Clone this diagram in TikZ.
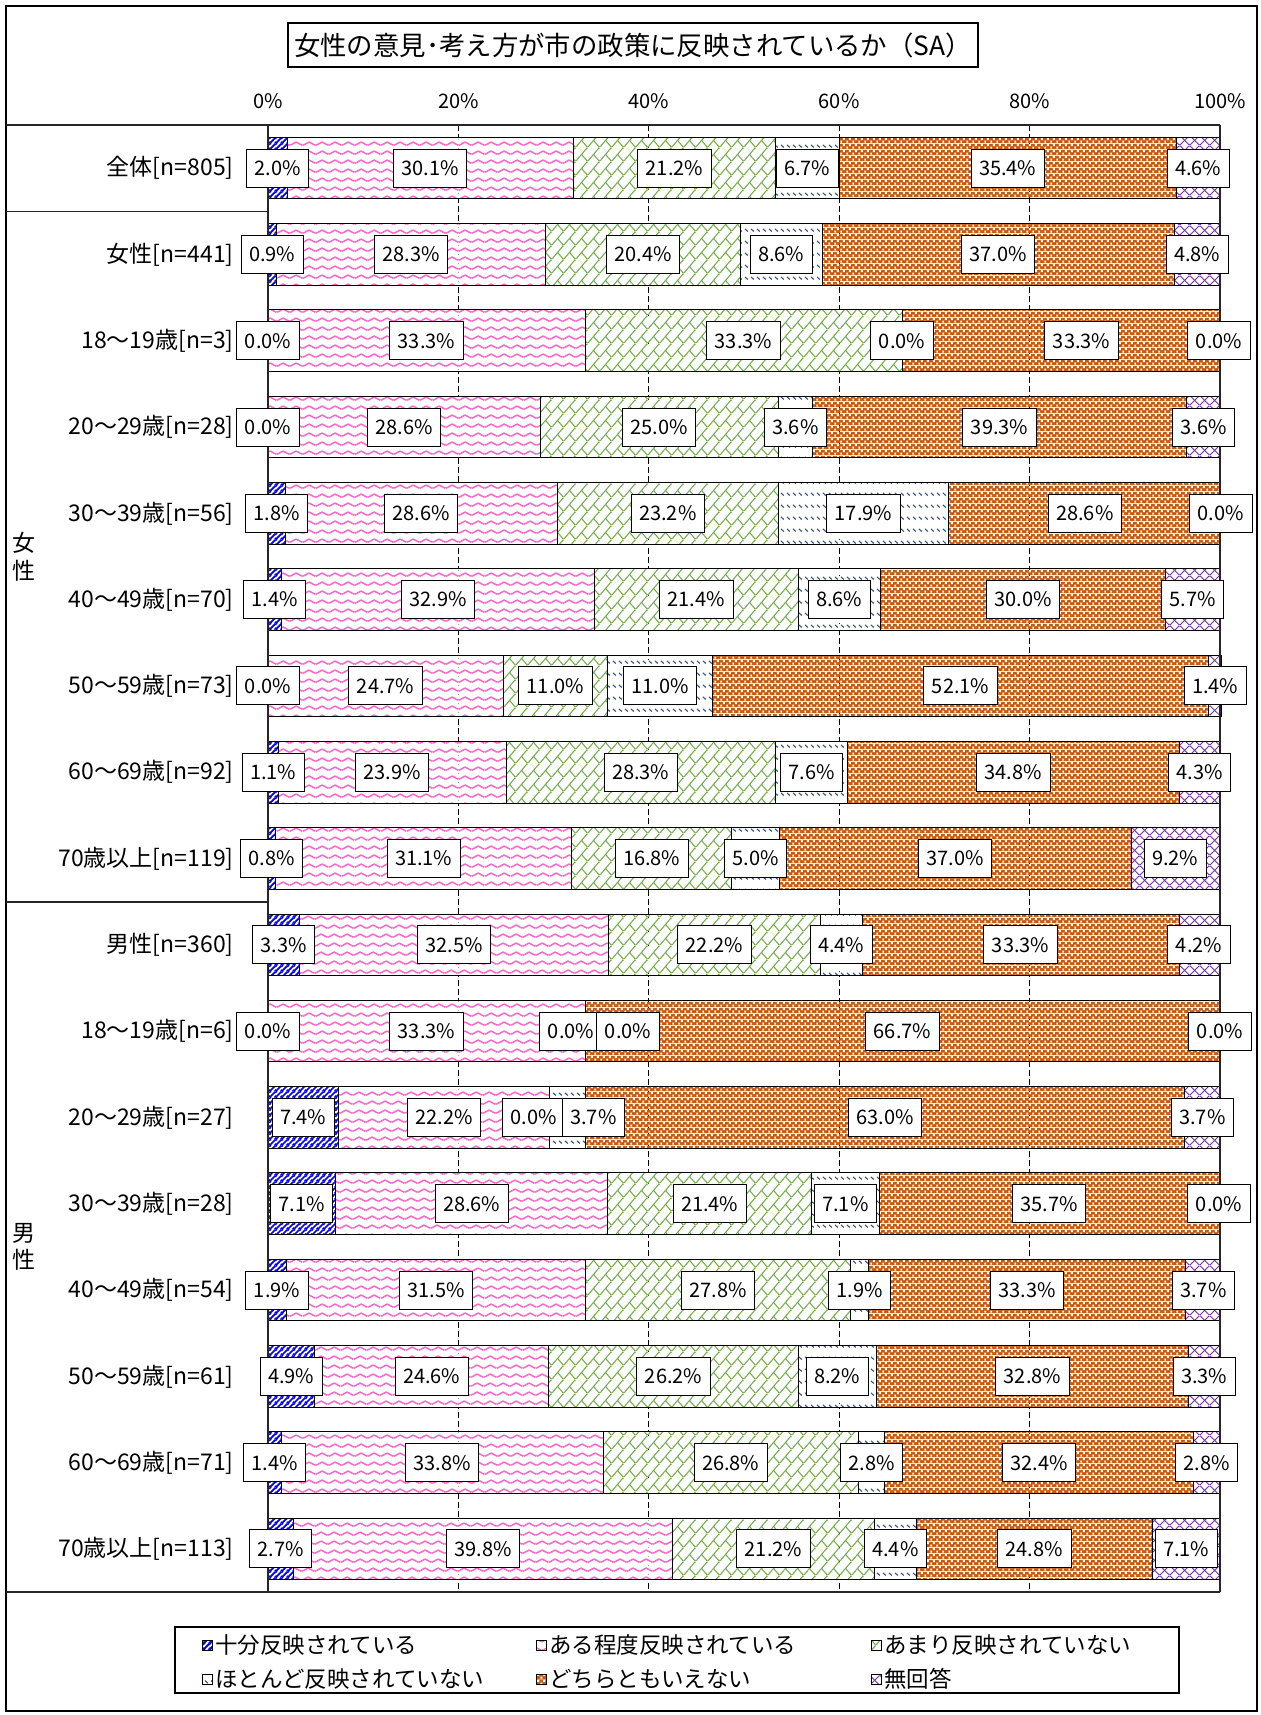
\documentclass[tikz,border=0pt]{standalone}
\usepackage{fontspec}
\setmainfont{Noto Sans CJK JP}
\usetikzlibrary{patterns.meta}

\definecolor{jubunblue}{RGB}{0,0,255}
\definecolor{teidopink}{RGB}{255,102,204}
\definecolor{amarigreen}{RGB}{112,173,71}
\definecolor{hotondoblue}{RGB}{47,85,151}
\definecolor{dochiraorange}{RGB}{197,90,17}
\definecolor{mukaitopurple}{RGB}{112,48,160}

\tikzdeclarepattern{name=jubunfill, type=colored,
  bounding box={(0pt,0pt) and (3pt,3pt)}, tile size={(3pt,3pt)},
  code={
    \fill[white] (0pt,0pt) rectangle (3pt,3pt);
    \draw[jubunblue, line width=1pt] (-0.5pt,-0.5pt) -- (3.5pt,3.5pt);
    \draw[jubunblue, line width=1pt] (-0.5pt,2.5pt) -- (0.5pt,3.5pt);
    \draw[jubunblue, line width=1pt] (2.5pt,-0.5pt) -- (3.5pt,0.5pt);
  }}
\tikzdeclarepattern{name=teidofill, type=colored,
  bounding box={(0pt,0pt) and (6.3pt,4.4pt)}, tile size={(6.3pt,4.4pt)},
  code={
    \fill[white] (0pt,0pt) rectangle (6.3pt,4.4pt);
    \draw[teidopink, line width=0.75pt] (0pt,1.4pt) .. controls (1.3pt,1.4pt) and (1.85pt,3pt) .. (3.15pt,3pt) .. controls (4.45pt,3pt) and (5pt,1.4pt) .. (6.3pt,1.4pt);
  }}
\tikzdeclarepattern{name=amarifill, type=colored,
  bounding box={(0pt,0pt) and (6pt,7pt)}, tile size={(6pt,7pt)},
  code={
    \fill[white] (0pt,0pt) rectangle (6pt,7pt);
    \draw[amarigreen, line width=0.55pt] (0pt,0pt) -- (6pt,7pt);
    \draw[amarigreen, line width=0.55pt] (3pt,3.5pt) -- (6pt,0pt);
  }}
\tikzdeclarepattern{name=hotondofill, type=colored,
  bounding box={(0pt,0pt) and (3pt,6pt)}, tile size={(3pt,6pt)},
  code={
    \fill[white] (0pt,0pt) rectangle (3pt,6pt);
    \draw[hotondoblue, line width=0.6pt] (0.6pt,5.4pt) -- (2.2pt,4pt);
  }}
\tikzdeclarepattern{name=dochirafill, type=colored,
  bounding box={(0pt,0pt) and (3pt,3pt)}, tile size={(3pt,3pt)},
  code={
    \fill[dochiraorange] (0pt,0pt) rectangle (3pt,3pt);
    \fill[white] (0.2pt,0.2pt) rectangle (1.3pt,1.3pt);
    \fill[white] (1.7pt,1.7pt) rectangle (2.8pt,2.8pt);
  }}
\tikzdeclarepattern{name=mukaitofill, type=colored,
  bounding box={(0pt,0pt) and (5pt,5pt)}, tile size={(5pt,5pt)},
  code={
    \fill[white] (0pt,0pt) rectangle (5pt,5pt);
    \draw[mukaitopurple, line width=0.45pt] (0pt,0pt) -- (5pt,5pt);
    \draw[mukaitopurple, line width=0.45pt] (0pt,5pt) -- (5pt,0pt);
  }}

\tikzset{
  seg1/.style={draw=black, line width=0.5pt, pattern=jubunfill},
  seg2/.style={draw=black, line width=0.5pt, pattern=teidofill},
  seg3/.style={draw=black, line width=0.5pt, pattern=amarifill},
  seg4/.style={draw=black, line width=0.5pt, pattern=hotondofill},
  seg5/.style={draw=black, line width=0.5pt, pattern=dochirafill},
  seg6/.style={draw=black, line width=0.5pt, pattern=mukaitofill},
  framel/.style={line width=0.7pt, black!85},
  gridline/.style={line width=0.5pt, dash pattern=on 3pt off 1.5pt},
  pctlabel/.style={draw=black, fill=white, line width=0.5pt, inner xsep=4pt, inner ysep=0pt,
    minimum height=19pt, font=\fontsize{10pt}{12pt}\selectfont},
  catlabel/.style={anchor=east, inner sep=0pt, font=\fontsize{11.5pt}{13.8pt}\selectfont},
  grouplabel/.style={align=center, inner sep=0pt, font=\fontsize{11.5pt}{13.8pt}\selectfont},
  axlabel/.style={inner sep=0pt, font=\fontsize{10pt}{12pt}\selectfont},
  legtext/.style={anchor=west, inner sep=0pt, font=\fontsize{11.25pt}{13.5pt}\selectfont},
  titlebox/.style={draw=black, line width=0.6pt, minimum width=345pt, minimum height=22pt,
    inner sep=0pt, font=\fontsize{13.2pt}{15pt}\selectfont}
}

\def\chartrows{%
全体[n=805]/{2.0,30.1,21.2,6.7,35.4,4.6}/{0,0,0,0,0,0},%
女性[n=441]/{0.9,28.3,20.4,8.6,37.0,4.8}/{0,0,0,0,0,0},%
18～19歳[n=3]/{0.0,33.3,33.3,0.0,33.3,0.0}/{0,0,0,0,21,0},%
20～29歳[n=28]/{0.0,28.6,25.0,3.6,39.3,3.6}/{0,0,0,0,0,0},%
30～39歳[n=56]/{1.8,28.6,23.2,17.9,28.6,0.0}/{0,0,0,0,0,0},%
40～49歳[n=70]/{1.4,32.9,21.4,8.6,30.0,5.7}/{0,0,0,0,0,0},%
50～59歳[n=73]/{0.0,24.7,11.0,11.0,52.1,1.4}/{0,0,0,0,0,0},%
60～69歳[n=92]/{1.1,23.9,28.3,7.6,34.8,4.3}/{0,0,0,0,0,0},%
70歳以上[n=119]/{0.8,31.1,16.8,5.0,37.0,9.2}/{0,0,0,0,0,0},%
男性[n=360]/{3.3,32.5,22.2,4.4,33.3,4.2}/{0,0,0,0,0,0},%
18～19歳[n=6]/{0.0,33.3,0.0,0.0,66.7,0.0}/{0,0,-14,43,0,0},%
20～29歳[n=27]/{7.4,22.2,0.0,3.7,63.0,3.7}/{0,0,-16,26,0,0},%
30～39歳[n=28]/{7.1,28.6,21.4,7.1,35.7,0.0}/{0,0,0,0,0,0},%
40～49歳[n=54]/{1.9,31.5,27.8,1.9,33.3,3.7}/{0,0,0,0,0,0},%
50～59歳[n=61]/{4.9,24.6,26.2,8.2,32.8,3.3}/{0,0,0,0,0,0},%
60～69歳[n=71]/{1.4,33.8,26.8,2.8,32.4,2.8}/{0,0,0,0,0,0},%
70歳以上[n=113]/{2.7,39.8,21.2,4.4,24.8,7.1}/{0,0,0,0,0,0}}

\begin{document}
\begin{tikzpicture}[x=0.5pt, y=-0.5pt]
\useasboundingbox (0,0) rectangle (1260,1715);
\draw[line width=0.6pt] (6,6) rectangle (1257,1711);

\node[titlebox] (title) at (633,45) {女性の意見･考え方が市の政策に反映されているか（SA）};

\foreach \p in {20,40,60,80}
  \draw[gridline] (268+9.52*\p,125) -- (268+9.52*\p,1592);
\foreach \p in {0,20,...,100}
  \node[axlabel] (ax\p) at (268+9.52*\p,101) {\p\%};

% bars
\foreach \lab/\vals/\shifts [count=\r from 0] in \chartrows {
  \pgfmathsetmacro\yc{168.15+86.3*\r}
  \node[catlabel] (cat\r) at (234,\yc) {\lab};
  \xdef\cum{0}
  \foreach \v [count=\k] in \vals {
    \pgfmathsetmacro\xa{268+9.52*\cum}
    \pgfmathsetmacro\xb{268+9.52*(\cum+\v)}
    \ifdim\v pt>0pt
      \draw[seg\k] (\xa,\yc-30.8) rectangle (\xb,\yc+30.8);
    \fi
    \pgfmathsetmacro\cumnext{\cum+\v}
    \xdef\cum{\cumnext}
  }
}

\draw[framel] (6,125) -- (1220,125);
\draw[framel] (268,125) -- (268,1592);
\draw[framel] (1220,125) -- (1220,1592);
\draw[framel] (6,1592) -- (1220,1592);
\draw[framel] (6,211.4) -- (268,211.4);
\draw[framel] (6,901.8) -- (268,901.8);

\node[grouplabel] (grpjosei) at (24,556.6) {女\\性};
\node[grouplabel] (grpdansei) at (24,1247) {男\\性};

% value labels
\foreach \lab/\vals/\shifts [count=\r from 0] in \chartrows {
  \pgfmathsetmacro\yc{168.15+86.3*\r}
  \xdef\cum{0}
  \foreach \v [count=\k] in \vals {
    \pgfmathsetmacro\xm{268+9.52*(\cum+\v/2)+{\shifts}[\k-1]}
    \node[pctlabel] (pct\r-\k) at (\xm,\yc) {\v\%};
    \pgfmathsetmacro\cumnext{\cum+\v}
    \xdef\cum{\cumnext}
  }
}

% legend
\node[draw=black, line width=0.75pt, minimum width=502pt, minimum height=33pt] (legend) at (677,1660) {};
\foreach \txt [count=\k] in {十分反映されている,ある程度反映されている,あまり反映されていない,ほとんど反映されていない,どちらともいえない,無回答} {
  \pgfmathsetmacro\lx{{207,541,876}[int(mod(\k-1,3))]}
  \pgfmathsetmacro\ly{1645+34*int((\k-1)/3)}
  \draw[seg\k] (\lx-5,\ly-5) rectangle (\lx+5,\ly+5);
  \node[legtext] (leg\k) at (\lx+8,\ly) {\txt};
}
\end{tikzpicture}
\end{document}
